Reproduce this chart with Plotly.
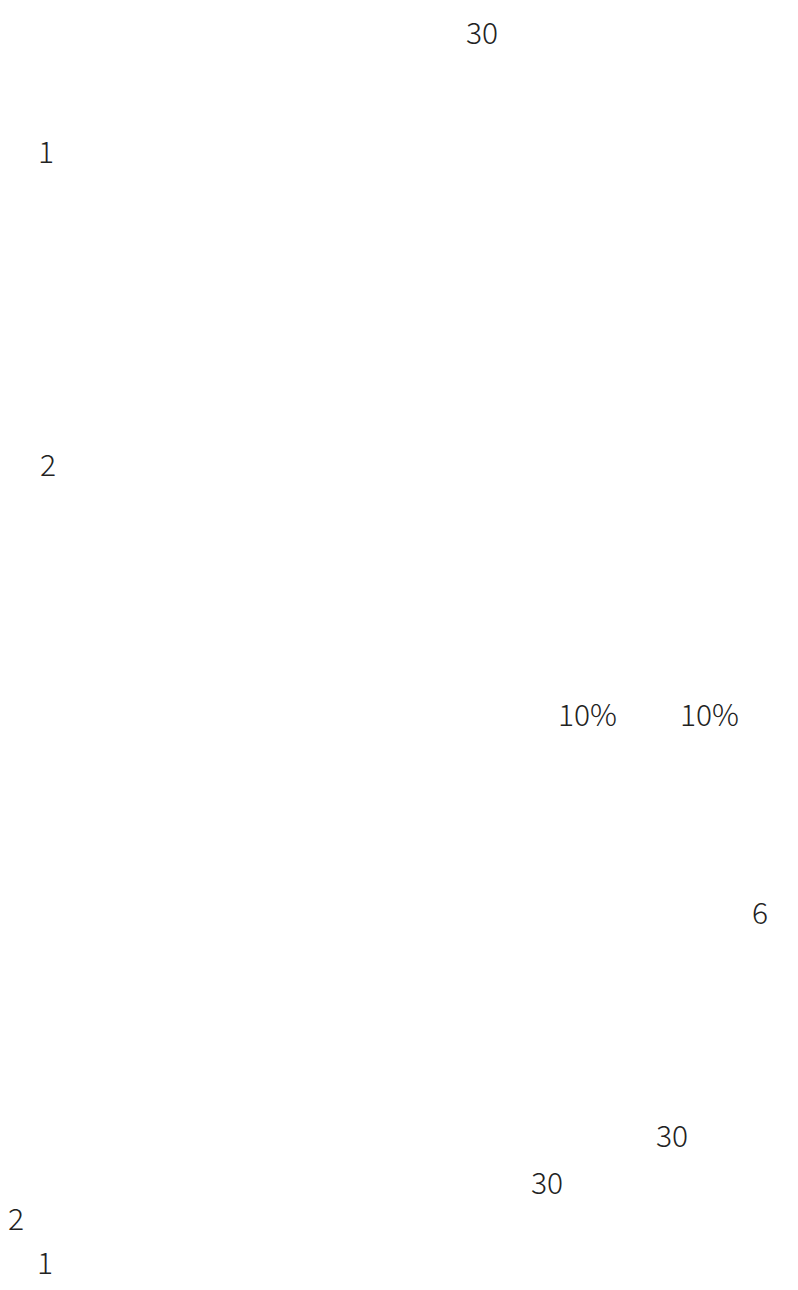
import plotly.graph_objects as go

# Visible text fragments (the only content that rendered in the reference)
labels = ["30", "1", "2", "10%", "10%", "6", "30", "30", "2", "1"]
# Label anchor positions in page pixels (x from left, y from top)
pos_x = [474, 38, 40, 579, 701, 752, 664, 539, 8, 37]
pos_y = [23, 142, 455, 705, 705, 903, 1126, 1173, 1209, 1253]

W, H = 798, 1290

fig = go.Figure()
for t, px, py in zip(labels, pos_x, pos_y):
    fig.add_annotation(
        text=t, x=px / W, y=1 - py / H, xref="paper", yref="paper",
        xanchor="center", yanchor="middle", showarrow=False, borderpad=0,
        font=dict(family="Noto Sans CJK SC", size=30, color="#222222",
                  weight=300),
    )

fig.update_layout(
    width=W, height=H, margin=dict(l=0, r=0, t=0, b=0),
    paper_bgcolor="white", plot_bgcolor="white",
    xaxis=dict(visible=False), yaxis=dict(visible=False),
    showlegend=False,
)
fig.write_html("out.html")
